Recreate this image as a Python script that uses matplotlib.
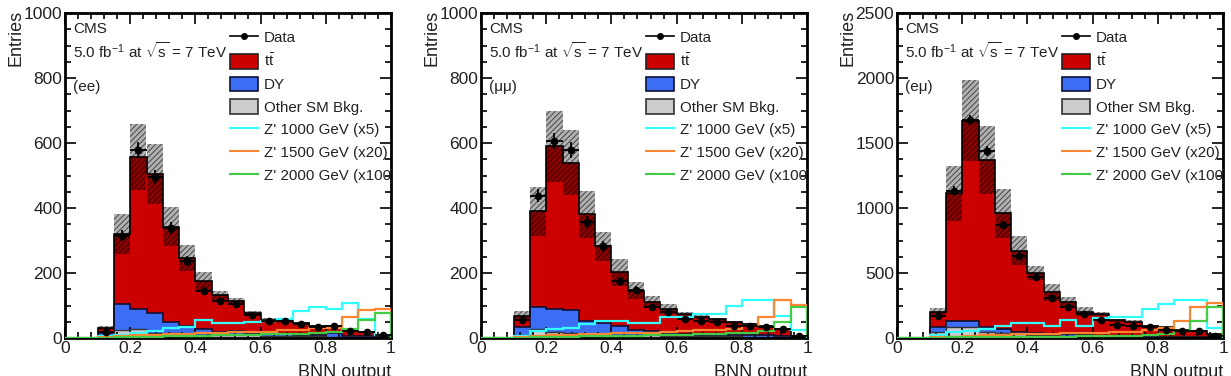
import matplotlib as mpl
import matplotlib.pyplot as plt
import numpy as np
from matplotlib.lines import Line2D
from matplotlib.patches import Patch
from matplotlib.transforms import Bbox, TransformedBbox

edges = np.linspace(0, 1, 21)

# ---- ee channel ----
ee_total = [0, 0, 31, 321, 557, 504, 343, 247, 174, 131, 113, 77, 56, 51, 45, 36, 38, 26, 20, 5]
ee_band = [0, 0, 36, 383, 658, 597, 403, 287, 203, 144, 123, 84, 62, 55, 48, 39, 41, 28, 22, 6]
ee_data = [0, 0, 20, 315, 578, 496, 339, 236, 144, 113, 105, 72, 53, 51, 43, 35, 37, 23, 17, 8]
ee_other = [0, 0, 5, 26, 28, 15, 14, 12, 10, 10, 10, 8, 7, 6, 5, 5, 4, 3, 3, 1]
ee_dy = [0, 0, 10, 79, 60, 62, 34, 24, 19, 10, 12, 7, 6, 5, 5, 4, 10, 4, 3, 1]
ee_z1000 = [0, 0, 5, 10, 15, 22, 30, 33, 56, 45, 47, 50, 53, 60, 82, 95, 88, 108, 58, 10]
ee_z1500 = [0, 0, 2, 5, 8, 10, 12, 12, 14, 15, 17, 18, 20, 25, 25, 30, 32, 65, 85, 88]
ee_z2000 = [0, 0, 1, 2, 3, 4, 5, 6, 7, 8, 9, 10, 11, 12, 13, 15, 20, 28, 55, 77]

# ---- mumu channel ----
mm_total = [0, 0, 69, 390, 590, 540, 381, 282, 202, 146, 110, 89, 74, 64, 58, 48, 43, 38, 28, 7]
mm_band = [0, 0, 82, 466, 700, 641, 453, 327, 243, 171, 128, 105, 81, 70, 63, 52, 47, 41, 30, 8]
mm_data = [0, 0, 55, 438, 607, 578, 356, 282, 174, 148, 94, 81, 58, 53, 48, 38, 38, 35, 28, 7]
mm_other = [0, 0, 5, 28, 20, 15, 12, 10, 10, 8, 8, 7, 6, 6, 5, 5, 4, 4, 3, 1]
mm_dy = [0, 0, 28, 66, 69, 71, 41, 35, 28, 17, 14, 8, 6, 4, 5, 4, 4, 4, 4, 1]
mm_z1000 = [0, 0, 5, 22, 28, 30, 43, 51, 51, 45, 45, 64, 64, 74, 74, 99, 117, 117, 69, 25]
mm_z1500 = [0, 0, 2, 5, 8, 10, 12, 12, 14, 15, 16, 20, 22, 24, 26, 28, 38, 64, 117, 103]
mm_z2000 = [0, 0, 1, 2, 3, 4, 5, 5, 6, 7, 8, 9, 10, 11, 12, 14, 16, 22, 48, 96]

# ---- emu channel ----
em_total = [0, 0, 197, 1113, 1672, 1369, 959, 672, 500, 351, 274, 203, 185, 138, 126, 95, 82, 62, 56, 31]
em_band = [0, 0, 231, 1326, 1985, 1633, 1146, 782, 556, 415, 313, 236, 197, 150, 135, 102, 88, 66, 59, 33]
em_data = [0, 0, 172, 1133, 1677, 1441, 872, 633, 467, 308, 236, 185, 138, 103, 95, 82, 62, 56, 51, 18]
em_other = [0, 0, 44, 82, 82, 50, 40, 30, 25, 20, 18, 15, 12, 10, 10, 8, 7, 6, 5, 3]
em_dy = [0, 0, 38, 51, 51, 32, 29, 20, 15, 10, 10, 7, 6, 5, 4, 4, 3, 3, 3, 1]
em_z1000 = [0, 0, 20, 50, 55, 70, 95, 113, 113, 95, 140, 95, 155, 158, 160, 225, 262, 290, 292, 78]
em_z1500 = [0, 0, 5, 10, 15, 20, 25, 28, 30, 32, 35, 38, 40, 45, 50, 60, 80, 133, 241, 267]
em_z2000 = [0, 0, 2, 4, 5, 6, 7, 8, 9, 10, 11, 12, 13, 14, 16, 20, 28, 56, 128, 241]

channels = [
    ("(ee)", 1000, 200, ee_total, ee_band, ee_data, ee_other, ee_dy, ee_z1000, ee_z1500, ee_z2000),
    ("(\u03bc\u03bc)", 1000, 200, mm_total, mm_band, mm_data, mm_other, mm_dy, mm_z1000, mm_z1500, mm_z2000),
    ("(e\u03bc)", 2500, 500, em_total, em_band, em_data, em_other, em_dy, em_z1000, em_z1500, em_z2000),
]

plt.rcParams['font.family'] = ['Liberation Sans', 'DejaVu Sans']
plt.rcParams['mathtext.fontset'] = 'custom'
plt.rcParams['mathtext.rm'] = 'Liberation Sans'
plt.rcParams['mathtext.it'] = 'Liberation Sans'
plt.rcParams['hatch.linewidth'] = 0.8

c_tt = '#cc0000'
c_dy = '#3b6ef5'
c_other = '#cccccc'
c_z1 = '#33ffff'
c_z2 = '#ff8533'
c_z3 = '#44cc44'
c_txt = '#222222'

fig = plt.figure(figsize=(12.31, 3.76), dpi=100)
lefts = [65, 481, 897]

for i, ch in enumerate(channels):
    name, ymax, ystep, total, band, data, other, dy, z1, z2, z3 = ch
    total = np.array(total, dtype=float)
    band = np.array(band, dtype=float)
    data = np.array(data, dtype=float)
    other = np.array(other, dtype=float)
    dy = np.array(dy, dtype=float)
    unc = band - total
    ax = fig.add_axes([lefts[i] / 1231, 38 / 376, 326 / 1231, 325 / 376])

    # stacked backgrounds
    ax.stairs(total, edges, baseline=other + dy, fill=True, color=c_tt, zorder=1)
    ax.stairs(other + dy, edges, baseline=other, fill=True, color=c_dy, zorder=1)
    ax.stairs(other, edges, baseline=0, fill=True, color=c_other, zorder=1)
    ax.stairs(total, edges, color='black', lw=1.2, zorder=2)
    ax.stairs(other + dy, edges, color='#111133', lw=1.2, zorder=2)
    ax.stairs(other, edges, color='#333333', lw=1.0, zorder=2)

    # uncertainty band
    ax.bar(edges[:-1], 2 * unc, bottom=total - unc, width=0.05, align='edge',
           facecolor=(0, 0, 0, 0.3), edgecolor=(0, 0, 0, 0.55), lw=0,
           hatch='//////', zorder=3)

    # signals
    ax.stairs(z1, edges, color=c_z1, lw=1.6, zorder=4)
    ax.stairs(z2, edges, color=c_z2, lw=1.6, zorder=4)
    ax.stairs(z3, edges, color=c_z3, lw=1.6, zorder=4)

    # data
    centers = 0.5 * (edges[1:] + edges[:-1])
    m = data > 0
    ax.errorbar(centers[m], data[m], xerr=0.025, yerr=np.sqrt(data[m]), fmt='o',
                color='black', ms=4.5, elinewidth=1.3, capsize=0, zorder=5)

    ax.set_xlim(0, 1)
    ax.set_ylim(0, ymax)
    ax.set_xticks(np.arange(0, 1.01, 0.2))
    ax.set_xticklabels(['0', '0.2', '0.4', '0.6', '0.8', '1'])
    ax.xaxis.set_minor_locator(mpl.ticker.MultipleLocator(0.04))
    ax.set_yticks(np.arange(0, ymax + 1, ystep))
    ax.yaxis.set_minor_locator(mpl.ticker.MultipleLocator(ystep / 4))
    ax.tick_params(which='both', direction='in', top=True, right=True, width=1.2,
                   labelsize=12.5, pad=2, labelcolor=c_txt)
    ax.tick_params(which='major', length=8)
    ax.tick_params(which='minor', length=4)
    for s in ax.spines.values():
        s.set_linewidth(2)

    ax.text(1.0, -0.08, 'BNN output', transform=ax.transAxes, ha='right', va='top',
            fontsize=13, color=c_txt, clip_on=False)
    ax.text(-0.15, 1.01, 'Entries', transform=ax.transAxes, rotation=90, ha='center',
            va='top', fontsize=13, color=c_txt)
    ax.text(0.025, 0.972, 'CMS', transform=ax.transAxes, ha='left', va='top',
            fontsize=11, color=c_txt)
    ax.text(0.025, 0.915, r'5.0 fb$^{-1}$ at $\sqrt{\mathrm{s}}$ = 7 TeV',
            transform=ax.transAxes, ha='left', va='top', fontsize=11, color=c_txt)
    ax.text(0.025, 0.795, name, transform=ax.transAxes, ha='left', va='top',
            fontsize=11, color=c_txt)

    handles = [
        Line2D([], [], color='black', marker='o', ms=4, lw=1.2),
        Patch(facecolor=c_tt, edgecolor='#222222', lw=1.2),
        Patch(facecolor=c_dy, edgecolor='#111133', lw=1.2),
        Patch(facecolor=c_other, edgecolor='#333333', lw=1.2),
        Line2D([], [], color=c_z1, lw=1.5),
        Line2D([], [], color=c_z2, lw=1.5),
        Line2D([], [], color=c_z3, lw=1.5),
    ]
    labels = ['Data', r'$\mathrm{t\bar{t}}$', 'DY', 'Other SM Bkg.',
              "Z' 1000 GeV (x5)", "Z' 1500 GeV (x20)", "Z' 2000 GeV (x100)"]
    leg = ax.legend(handles, labels, loc='upper left', bbox_to_anchor=(0.505, 0.948),
                    frameon=False, fontsize=10.9, handlelength=1.85, handleheight=1.1,
                    handletextpad=0.4, labelspacing=0.48, borderpad=0, borderaxespad=0,
                    labelcolor=c_txt)
    clip = TransformedBbox(Bbox([[0, 0], [1.004, 1]]), ax.transAxes)
    for t in leg.get_texts():
        t.set_clip_on(True)
        t.set_clip_box(clip)

plt.savefig("out.png", dpi=100)
